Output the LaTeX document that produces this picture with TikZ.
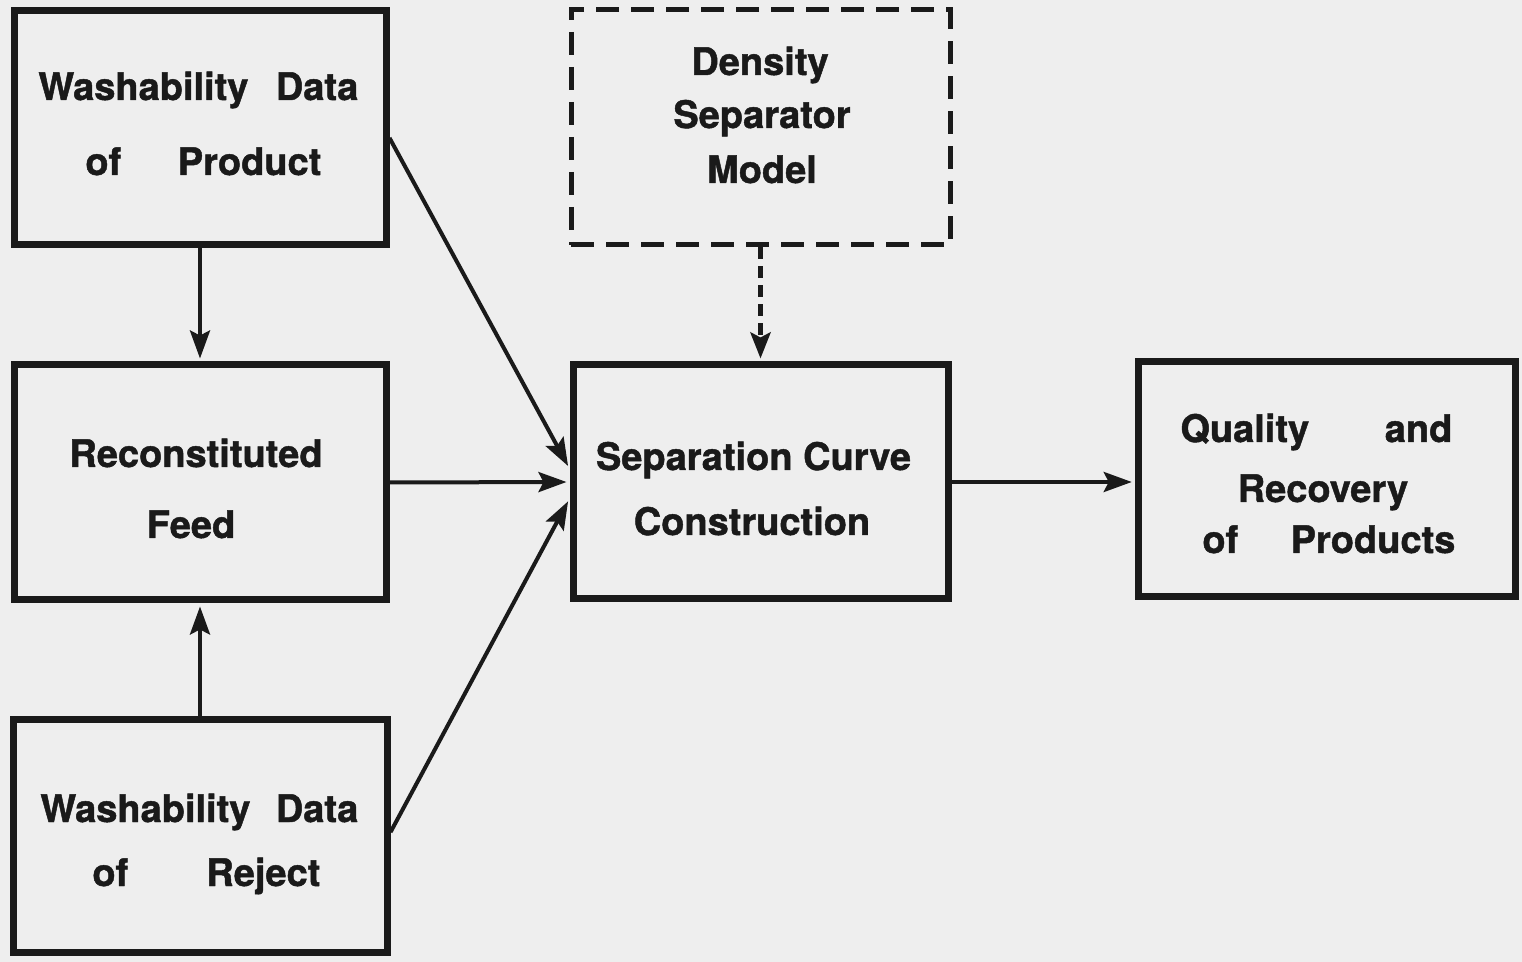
\documentclass[tikz,border=0pt]{standalone}
\usepackage{fontspec}
\setmainfont[BoldFeatures={FakeBold=1.2}]{TeX Gyre Heros}
\usetikzlibrary{arrows.meta}
\definecolor{ink}{HTML}{1A1A1A}
\definecolor{paper}{HTML}{EEEEEE}
\begin{document}
\begin{tikzpicture}[x=0.5pt,y=-0.5pt,
  box/.style={draw=ink, line width=3.5pt, inner sep=0pt},
  dbox/.style={draw=ink, line width=2.5pt, inner sep=0pt, dash pattern=on 11.5pt off 6pt},
  lbl/.style={text=ink, inner sep=0pt, font=\fontsize{19pt}{22pt}\selectfont\bfseries},
  arr/.style={draw=ink, line width=2pt, -{Stealth[length=14pt,width=10pt,inset=2.5pt]}, shorten >=1.5pt},
  darr/.style={draw=ink, line width=2.5pt, dash pattern=on 6pt off 3.5pt, -{Stealth[length=13pt,width=10pt,inset=2.5pt]}, shorten >=1.5pt}]
  % paper
  \fill[paper] (0,0) rectangle (1522,962);
  \useasboundingbox (0,0) rectangle (1522,962);

  % boxes
  \node[box, minimum width=186pt, minimum height=117pt] (A) at (200,128) {};
  \node[box, minimum width=186pt, minimum height=117.5pt] (B) at (200,482.5) {};
  \node[box, minimum width=187pt, minimum height=116.5pt] (C) at (200,835.5) {};
  \node[dbox, minimum width=189.5pt, minimum height=117.5pt] (D) at (760.5,127.5) {};
  \node[box, minimum width=187.5pt, minimum height=117pt] (E) at (760.5,482) {};
  \node[box, minimum width=188.75pt, minimum height=117.5pt] (F) at (1327,479.5) {};

  % texts
  \node[lbl, anchor=base west] (a1) at (38,100) {\makebox[160pt]{Washability\hfill Data}};
  \node[lbl, anchor=base west] (a2) at (85,175) {\makebox[118pt]{of\hfill Product}};
  \node[lbl, anchor=base] (b1) at (196,467) {Reconstituted};
  \node[lbl, anchor=base] (b2) at (191,538) {Feed};
  \node[lbl, anchor=base west] (c1) at (40,822) {\makebox[159pt]{Washability\hfill Data}};
  \node[lbl, anchor=base west] (c2) at (92,886) {\makebox[114pt]{of\hfill Reject}};
  \node[lbl, anchor=base] (d1) at (760,75) {Density};
  \node[lbl, anchor=base] (d2) at (762,128) {Separator};
  \node[lbl, anchor=base] (d3) at (762,183) {Model};
  \node[lbl, anchor=base] (e1) at (753.5,470) {Separation Curve};
  \node[lbl, anchor=base] (e2) at (752,535) {Construction};
  \node[lbl, anchor=base west] (f1) at (1180,442) {\makebox[136pt]{Quality\hfill and}};
  \node[lbl, anchor=base] (f2) at (1323,502) {Recovery};
  \node[lbl, anchor=base west] (f3) at (1202,553) {\makebox[126.5pt]{of\hfill Products}};

  % connectors
  \draw[arr] (A.south) -- (B.north);
  \draw[arr] (C.north) -- (B.south);
  \draw[arr] (A.-3) -- (E.176);
  \draw[arr] (B.east) -- (E.west);
  \draw[arr] (C.1) -- (E.185);
  \draw[darr] (D.south) -- (E.north);
  \draw[arr] (E.east) -- (E.east -| F.west);
\end{tikzpicture}
\end{document}
